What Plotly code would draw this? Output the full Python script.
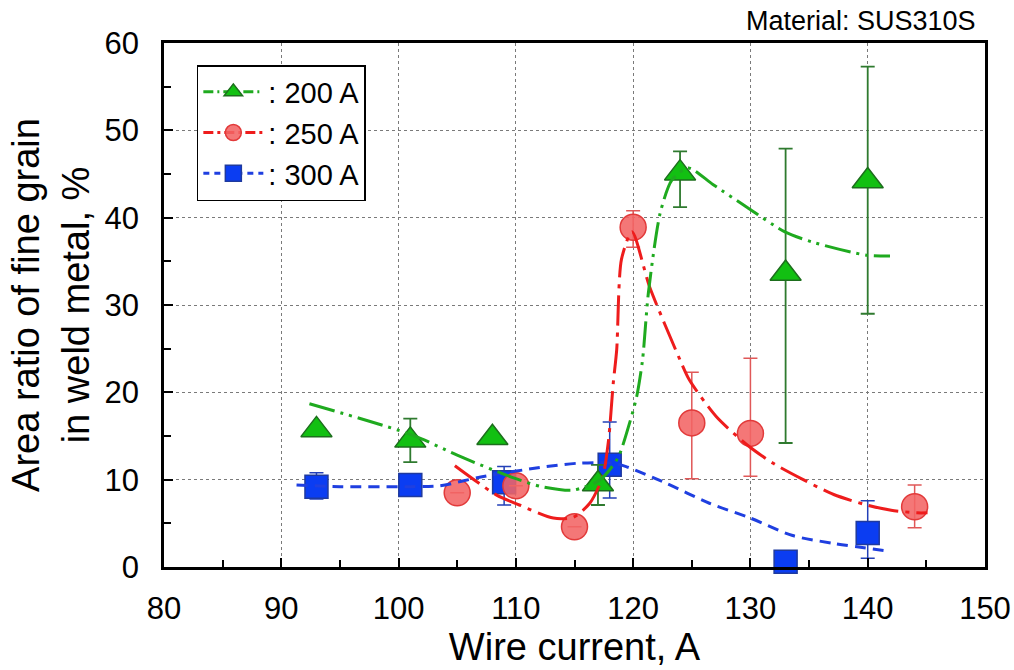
import plotly.graph_objects as go

# Measured points (wire current in A, area ratio in %)
x_200 = [93, 101, 108, 117, 124, 133, 140]
y_200 = [15.7, 14.5, 14.8, 9.5, 45.1, 33.6, 44.2]
err_200_plus = [0, 2.5, 0, 2.2, 2.5, 14.3, 13.1]
err_200_minus = [0, 2.5, 0, 2.4, 3.9, 19.4, 15.2]

x_250 = [105, 110, 115, 120, 125, 130, 144]
y_250 = [8.5, 9.3, 4.6, 38.9, 16.5, 15.3, 6.9]
err_250_plus = [0, 0, 0, 1.9, 5.8, 8.6, 2.5]
err_250_minus = [0, 0, 0, 2.3, 6.4, 4.9, 2.4]

x_300 = [93, 101, 109, 118, 133, 140]
y_300 = [9.2, 9.4, 9.7, 11.7, 0.6, 3.9]
err_300_plus = [1.6, 0, 1.8, 4.9, 0, 3.7]
err_300_minus = [1.4, 0, 2.6, 3.8, 0, 2.9]

# Trend curves drawn through the data
fit_x_200 = [92.4, 101.2, 105.0, 109.8, 112.2, 114.9, 117.2, 118.7, 119.7, 120.3,
             120.8, 121.3, 122.3, 123.3, 124.7, 126.8, 129.7, 132.9, 135.3, 139.9, 141.9]
fit_y_200 = [18.7, 15.1, 12.8, 10.2, 9.2, 8.8, 10.0, 12.5, 16.5, 19.5,
             23.7, 31.4, 40.5, 44.3, 45.7, 43.8, 41.2, 38.4, 37.2, 35.7, 35.6]

fit_x_250 = [104.8, 108.4, 110.3, 113.2, 114.9, 116.3, 117.4, 117.9, 118.3, 118.6,
             119.0, 119.9, 121.4, 124.0, 124.8, 127.1, 129.7, 131.9, 134.5, 137.1,
             139.9, 142.0, 144.2, 145.1]
fit_y_250 = [11.6, 8.2, 7.1, 5.6, 5.7, 7.3, 10.3, 14.5, 21.0, 24.9,
             35.2, 38.4, 32.1, 23.7, 21.4, 17.2, 14.0, 11.9, 10.0, 8.3,
             7.1, 6.5, 6.2, 6.2]

fit_x_300 = [91.3, 95.0, 101.0, 103.5, 107.0, 112.6, 115.5, 118.3, 119.4, 122.8,
             126.5, 130.0, 133.6, 137.1, 141.9]
fit_y_300 = [9.4, 9.2, 9.2, 9.3, 10.3, 11.5, 11.9, 11.9, 11.5, 9.6,
             7.3, 5.6, 3.6, 2.7, 1.8]

x_ticks = [80, 90, 100, 110, 120, 130, 140, 150]
y_ticks = [0, 10, 20, 30, 40, 50, 60]

FONT = "Liberation Sans, Arial, sans-serif"

GREEN_LINE = "#1FAA1F"
GREEN_FILL = "#12C012"
GREEN_EDGE = "#1D6E1D"
RED_LINE = "#EE1C1C"
RED_FILL = "rgba(242,100,100,0.88)"
RED_EDGE = "#E23A3A"
BLUE_LINE = "#1F3FE0"
BLUE_FILL = "#0B3DF2"
BLUE_EDGE = "#1F3A9E"

DASH_200 = "26px,6px,3px,6px,3px,6px"
DASH_250 = "30px,7px,4px,7px"
DASH_300 = "11px,7px"

fig = go.Figure()

# Markers with error bars
fig.add_trace(go.Scatter(
    x=x_300, y=y_300, mode="markers", showlegend=False, cliponaxis=False,
    marker=dict(symbol="square", size=23, color=BLUE_FILL, line=dict(color=BLUE_EDGE, width=1.5)),
    error_y=dict(type="data", symmetric=False, array=err_300_plus, arrayminus=err_300_minus,
                 color="#2340B8", thickness=1.5, width=7),
))
fig.add_trace(go.Scatter(
    x=x_250, y=y_250, mode="markers", showlegend=False,
    marker=dict(symbol="circle", size=26, color=RED_FILL, line=dict(color=RED_EDGE, width=1.5)),
    error_y=dict(type="data", symmetric=False, array=err_250_plus, arrayminus=err_250_minus,
                 color="#E05858", thickness=1.5, width=7),
))
fig.add_trace(go.Scatter(
    x=x_200, y=y_200, mode="markers", showlegend=False,
    marker=dict(symbol="triangle-up", size=27, color=GREEN_FILL, line=dict(color=GREEN_EDGE, width=1.5)),
    error_y=dict(type="data", symmetric=False, array=err_200_plus, arrayminus=err_200_minus,
                 color="#2F7A2F", thickness=1.8, width=7),
))

# Trend curves
fig.add_trace(go.Scatter(x=fit_x_300, y=fit_y_300, mode="lines", showlegend=False,
                         line=dict(color=BLUE_LINE, width=3, dash=DASH_300, shape="spline", smoothing=0.8)))
fig.add_trace(go.Scatter(x=fit_x_250, y=fit_y_250, mode="lines", showlegend=False,
                         line=dict(color=RED_LINE, width=3, dash=DASH_250, shape="spline", smoothing=0.7)))
fig.add_trace(go.Scatter(x=fit_x_200, y=fit_y_200, mode="lines", showlegend=False,
                         line=dict(color=GREEN_LINE, width=3, dash=DASH_200, shape="spline", smoothing=0.7)))

# Legend entries
fig.add_trace(go.Scatter(x=[None], y=[None], mode="lines+markers", name=": 200 A",
                         line=dict(color=GREEN_LINE, width=3, dash="10px,4px,2px,4px"),
                         marker=dict(symbol="triangle-up", size=22, color=GREEN_FILL,
                                     line=dict(color=GREEN_EDGE, width=1.5))))
fig.add_trace(go.Scatter(x=[None], y=[None], mode="lines+markers", name=": 250 A",
                         line=dict(color=RED_LINE, width=3, dash="10px,4px,3px,4px"),
                         marker=dict(symbol="circle", size=22, color=RED_FILL,
                                     line=dict(color=RED_EDGE, width=1.5))))
fig.add_trace(go.Scatter(x=[None], y=[None], mode="lines+markers", name=": 300 A",
                         line=dict(color=BLUE_LINE, width=3, dash="6px,5px"),
                         marker=dict(symbol="square", size=20, color=BLUE_FILL,
                                     line=dict(color=BLUE_EDGE, width=1.5))))

axis_common = dict(
    showline=True, linecolor="black", linewidth=2.5, mirror=True,
    ticks="inside", ticklen=9, tickwidth=1.5, tickcolor="black",
    showgrid=True, gridcolor="#7a7a7a", gridwidth=1, griddash="dot",
    zeroline=False,
    tickfont=dict(family=FONT, size=31, color="black"),
)

fig.update_xaxes(
    range=[80, 150], tickvals=x_ticks, ticklabelstandoff=12,
    minor=dict(dtick=5, ticks="inside", ticklen=7, tickwidth=1.5, tickcolor="black", showgrid=False),
    title=dict(text="Wire current, A", font=dict(family=FONT, size=38, color="black"), standoff=6),
    **axis_common,
)
fig.update_yaxes(
    range=[0, 60], tickvals=y_ticks, ticklabelstandoff=16,
    minor=dict(dtick=5, ticks="inside", ticklen=7, tickwidth=1.5, tickcolor="black", showgrid=False),
    title=dict(text="Area ratio of fine grain<br>in weld metal, %",
               font=dict(family=FONT, size=38, color="black"), standoff=4),
    **axis_common,
)

fig.add_annotation(
    text="Material: SUS310S", xref="paper", yref="paper", x=0.9915, y=1.042,
    xanchor="right", yanchor="middle", showarrow=False,
    font=dict(family=FONT, size=27, color="black"),
)

fig.update_layout(
    width=1014, height=670,
    margin=dict(l=164, r=29, t=43, b=103, autoexpand=False),
    plot_bgcolor="white", paper_bgcolor="white",
    font=dict(family=FONT, color="black"),
    legend=dict(
        x=0.04, y=0.958, xanchor="left", yanchor="top",
        bgcolor="white", bordercolor="black", borderwidth=1.5,
        font=dict(family=FONT, size=29, color="black"),
        itemwidth=60, tracegroupgap=0,
    ),
)

fig.write_html("out.html")
